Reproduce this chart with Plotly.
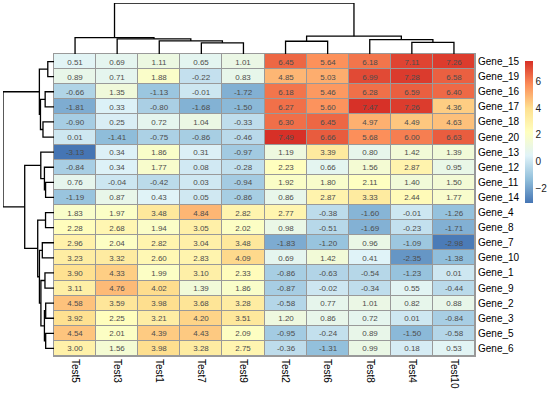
import numpy as np
import plotly.graph_objects as go

tests = ["Test5", "Test3", "Test1", "Test7", "Test9", "Test2", "Test6", "Test8", "Test4", "Test10"]
genes = ["Gene_15", "Gene_19", "Gene_16", "Gene_17", "Gene_18", "Gene_20", "Gene_13", "Gene_12",
         "Gene_11", "Gene_14", "Gene_4", "Gene_8", "Gene_7", "Gene_10", "Gene_1", "Gene_9",
         "Gene_2", "Gene_3", "Gene_5", "Gene_6"]

gene_15 = [0.51, 0.69, 1.11, 0.65, 1.01, 6.45, 5.64, 6.18, 7.11, 7.26]
gene_19 = [0.89, 0.71, 1.88, -0.22, 0.83, 4.85, 5.03, 6.99, 7.28, 6.58]
gene_16 = [-0.66, 1.35, -1.13, -0.01, -1.72, 6.18, 5.46, 6.28, 6.59, 6.40]
gene_17 = [-1.81, 0.33, -0.80, -1.68, -1.50, 6.27, 5.60, 7.47, 7.26, 4.36]
gene_18 = [-0.90, 0.25, 0.72, 1.04, -0.33, 6.30, 6.45, 4.97, 4.49, 4.63]
gene_20 = [0.01, -1.41, -0.75, -0.86, -0.46, 7.49, 6.66, 5.68, 6.00, 6.63]
gene_13 = [-3.13, 0.34, 1.86, 0.31, -0.97, 1.19, 3.39, 0.80, 1.42, 1.39]
gene_12 = [-0.84, 0.34, 1.77, 0.08, -0.28, 2.23, 0.66, 1.56, 2.87, 0.95]
gene_11 = [0.76, -0.04, -0.42, 0.03, -0.94, 1.92, 1.80, 2.11, 1.40, 1.50]
gene_14 = [-1.19, 0.87, 0.43, 0.05, -0.86, 0.86, 2.87, 3.33, 2.44, 1.77]
gene_4 = [1.83, 1.97, 3.48, 4.84, 2.82, 2.77, -0.38, -1.60, -0.01, -1.26]
gene_8 = [2.28, 2.68, 1.94, 3.05, 2.02, 0.98, -0.51, -1.69, -0.23, -1.71]
gene_7 = [2.96, 2.04, 2.82, 3.04, 3.48, -1.83, -1.20, 0.96, -1.09, -2.98]
gene_10 = [3.23, 3.32, 2.60, 2.83, 4.09, 0.69, 1.42, 0.41, -2.35, -1.38]
gene_1 = [3.90, 4.33, 1.99, 3.10, 2.33, -0.86, -0.63, -0.54, -1.23, 0.01]
gene_9 = [3.11, 4.76, 4.02, 1.39, 1.86, -0.87, -0.02, -0.34, 0.55, -0.44]
gene_2 = [4.58, 3.59, 3.98, 3.68, 3.28, -0.58, 0.77, 1.01, 0.82, 0.88]
gene_3 = [3.92, 2.25, 3.21, 4.20, 3.51, 1.20, 0.86, 0.72, 0.01, -0.84]
gene_5 = [4.54, 2.01, 4.39, 4.43, 2.09, -0.95, -0.24, 0.89, -1.50, -0.58]
gene_6 = [3.00, 1.56, 3.98, 3.28, 2.75, -0.36, -1.31, 0.99, 0.18, 0.53]

legend_ticks = [-2, 0, 2, 4, 6]

z = np.array([gene_15, gene_19, gene_16, gene_17, gene_18, gene_20, gene_13, gene_12, gene_11,
              gene_14, gene_4, gene_8, gene_7, gene_10, gene_1, gene_9, gene_2, gene_3, gene_5, gene_6])
text = [[f"{v:.2f}" for v in row] for row in z]

palette = ["#4575B4", "#91BFDB", "#E0F3F8", "#FFFFBF", "#FEE090", "#FC8D59", "#D73027"]
colorscale = [[i / 6, c] for i, c in enumerate(palette)]


def complete_linkage(X):
    D = np.sqrt(((X[:, None, :] - X[None, :, :]) ** 2).sum(-1))
    clusters = {i: [i] for i in range(len(X))}
    merges = []
    nid = len(X)
    while len(clusters) > 1:
        keys = list(clusters)
        best = None
        for a in range(len(keys)):
            for b in range(a + 1, len(keys)):
                d = D[np.ix_(clusters[keys[a]], clusters[keys[b]])].max()
                if best is None or d < best[0]:
                    best = (d, keys[a], keys[b])
        d, a, b = best
        clusters[nid] = clusters.pop(a) + clusters.pop(b)
        merges.append((nid, a, b, d))
        nid += 1
    return merges, len(X)


def dendro_segments(merges, n):
    pos = {i: float(i) for i in range(n)}
    hgt = {i: 0.0 for i in range(n)}
    P, H = [], []
    for nid, a, b, d in merges:
        P += [pos[a], pos[a], pos[b], pos[b], None]
        H += [hgt[a], d, d, hgt[b], None]
        pos[nid] = (pos[a] + pos[b]) / 2
        hgt[nid] = d
    return P, H, max(m[3] for m in merges)


W, Hh = 554, 398
hx0, hx1 = 54, 475
hy0, hy1 = 54, 356

fig = go.Figure()
fig.add_trace(go.Heatmap(
    z=z, x=list(range(len(tests))), y=list(range(len(genes))),
    colorscale=colorscale, zmin=z.min(), zmax=z.max(),
    xgap=1, ygap=1, text=text, texttemplate="%{text}",
    textfont=dict(size=8, color="#4D4D4D", family="Liberation Sans, Arial"),
    hoverinfo="skip",
    colorbar=dict(x=525 / W, xanchor="left", xpad=0, ypad=0, thickness=8,
                  lenmode="pixels", len=142,
                  y=(Hh - 132.5) / Hh, yanchor="middle", outlinewidth=0,
                  tickvals=legend_ticks, ticks="", ticklabelposition="outside",
                  tickfont=dict(size=10, color="#222", family="Liberation Sans, Arial")),
))

cm, cn = complete_linkage(z.T)
cp, ch, cmax = dendro_segments(cm, cn)
fig.add_trace(go.Scatter(x=cp, y=ch, mode="lines", line=dict(color="black", width=1.3),
                         xaxis="x2", yaxis="y2", hoverinfo="skip", showlegend=False))

rm, rn = complete_linkage(z)
rp, rh, rmax = dendro_segments(rm, rn)
fig.add_trace(go.Scatter(x=rh, y=rp, mode="lines", line=dict(color="black", width=1.3),
                         xaxis="x3", yaxis="y3", hoverinfo="skip", showlegend=False))

fig.add_shape(type="rect", xref="x", yref="y", x0=-0.5, x1=len(tests) - 0.5,
              y0=-0.5, y1=len(genes) - 0.5, fillcolor="#999999", line_width=0, layer="below")

font = dict(family="Liberation Sans, Arial", size=10, color="black")
fig.update_layout(
    width=W, height=Hh, margin=dict(l=0, r=0, t=0, b=0),
    paper_bgcolor="white", plot_bgcolor="white", font=font, showlegend=False,
    xaxis=dict(domain=[hx0 / W, hx1 / W], range=[-0.5, len(tests) - 0.5],
               tickvals=list(range(len(tests))), ticktext=tests, tickangle=90,
               showgrid=False, zeroline=False, ticks="", showline=True, mirror=True,
               linecolor="#999999", linewidth=1, tickfont=font),
    yaxis=dict(domain=[(Hh - hy1) / Hh, (Hh - hy0) / Hh], range=[len(genes) - 0.5, -0.5],
               tickvals=list(range(len(genes))), ticktext=genes, side="right",
               showgrid=False, zeroline=False, ticks="", showline=True, mirror=True,
               linecolor="#999999", linewidth=1, tickfont=font),
    xaxis2=dict(domain=[hx0 / W, hx1 / W], range=[-0.5, len(tests) - 0.5], visible=False,
                anchor="y2"),
    yaxis2=dict(domain=[(Hh - hy0) / Hh, (Hh - 3) / Hh], range=[0, cmax], visible=False,
                anchor="x2"),
    xaxis3=dict(domain=[3 / W, hx0 / W], range=[rmax, 0], visible=False, anchor="y3"),
    yaxis3=dict(domain=[(Hh - hy1) / Hh, (Hh - hy0) / Hh], range=[len(genes) - 0.5, -0.5],
                visible=False, anchor="x3"),
)

fig.write_html("out.html", config={"displayModeBar": False},
               post_script="document.body.style.margin='0';")
